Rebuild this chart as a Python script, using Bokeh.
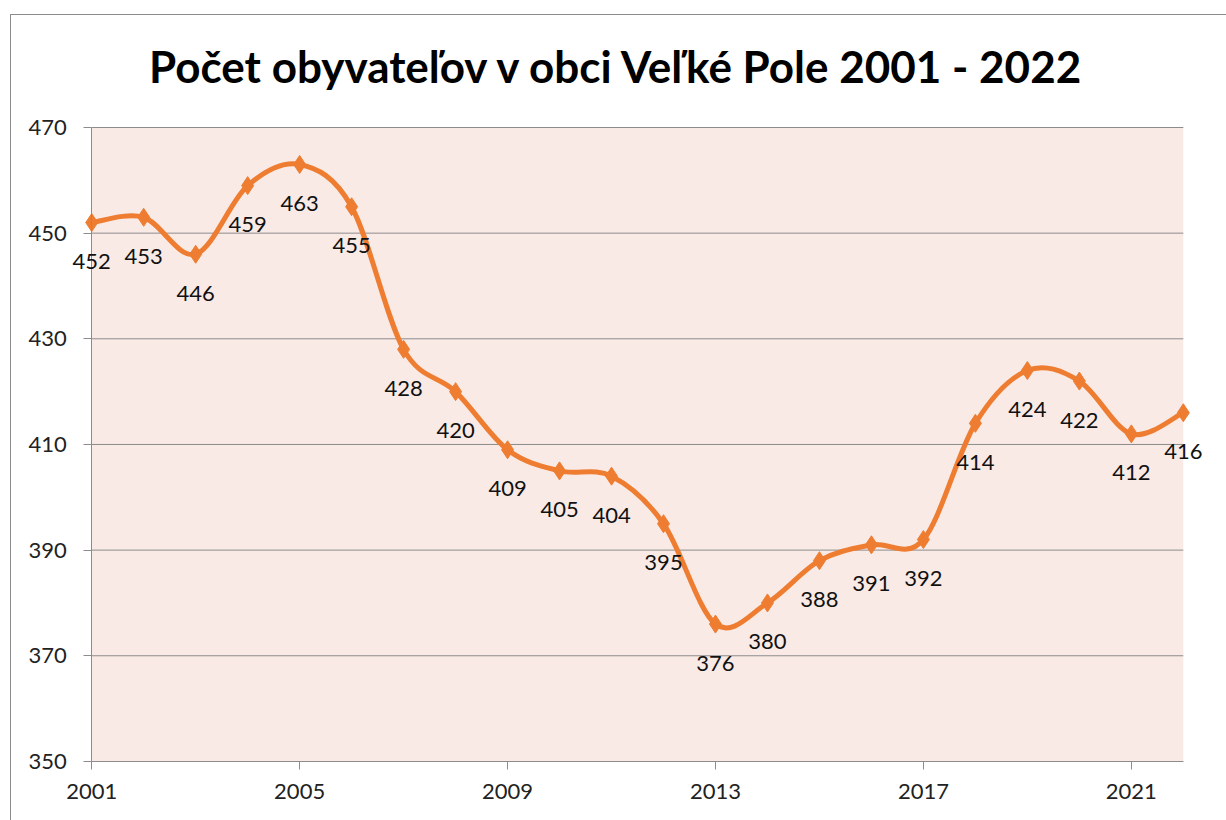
from bokeh.plotting import figure
from bokeh.models import ColumnDataSource, FixedTicker, LabelSet, Range1d
from bokeh.core.properties import value
from bokeh.embed import file_html
from bokeh.resources import INLINE

years = [2001, 2002, 2003, 2004, 2005, 2006, 2007, 2008, 2009, 2010, 2011,
         2012, 2013, 2014, 2015, 2016, 2017, 2018, 2019, 2020, 2021, 2022]
population = [452, 453, 446, 459, 463, 455, 428, 420, 409, 405, 404,
              395, 376, 380, 388, 391, 392, 414, 424, 422, 412, 416]
x_ticks = [2001, 2005, 2009, 2013, 2017, 2021]
y_ticks = [350, 370, 390, 410, 430, 450, 470]
title_text = "Počet obyvateľov v obci Veľké Pole 2001 - 2022"

ORANGE = "#EE7D31"
GRID = "#8C8C8C"
FONT = "Lato"

p = figure(width=1216, height=806, output_backend="svg", toolbar_location=None,
           x_range=Range1d(1999.63, 2022.6), y_range=Range1d(340.14, 472.84),
           min_border_left=9, min_border_right=13, min_border_top=97,
           min_border_bottom=8)
p.margin = (14, 0, 0, 10)
p.styles = {"border-left": "1px solid #8C8C8C", "border-top": "1px solid #8C8C8C"}

p.title.text = title_text
p.title.align = "center"
p.title.standoff = 42
p.title.text_font = FONT
p.title.text_font_style = "bold"
p.title.text_font_size = "44px"
p.title.text_color = "#000000"

p.background_fill_color = "white"
p.border_fill_color = "white"
p.outline_line_color = None
p.xgrid.grid_line_color = None
p.ygrid.grid_line_color = None

# plot area (pink) spanning the data domain
p.quad(left=years[0], right=years[-1], bottom=y_ticks[0], top=y_ticks[-1],
       fill_color="#FAEAE6", line_color=None)
# horizontal gridlines
p.segment(x0=[years[0]] * (len(y_ticks) - 1), x1=[years[-1]] * (len(y_ticks) - 1),
          y0=y_ticks[1:], y1=y_ticks[1:], line_color=GRID, line_width=1)

p.xaxis.ticker = FixedTicker(ticks=x_ticks)
p.yaxis.ticker = FixedTicker(ticks=y_ticks)
p.xaxis.bounds = (years[0], years[-1])
p.xaxis.fixed_location = y_ticks[0]
p.yaxis.bounds = (y_ticks[0], y_ticks[-1])
p.yaxis.fixed_location = years[0]
for ax in (p.xaxis[0], p.yaxis[0]):
    ax.axis_line_color = GRID
    ax.major_tick_line_color = GRID
    ax.major_tick_out = 8
    ax.major_tick_in = 0
    ax.minor_tick_line_color = None
    ax.major_label_text_font = FONT
    ax.major_label_text_font_size = "22px"
    ax.major_label_text_color = "#222222"
p.xaxis.major_label_standoff = 15
p.yaxis.major_label_standoff = 17

# Excel-like smoothed line through the data points (cubic Bezier segments)
n = len(years)
x0, y0, x1, y1, cx0, cy0, cx1, cy1 = ([] for _ in range(8))
for i in range(n - 1):
    ip = max(i - 1, 0)
    inn = min(i + 2, n - 1)
    x0.append(years[i]); y0.append(population[i])
    x1.append(years[i + 1]); y1.append(population[i + 1])
    cx0.append(years[i] + (years[i + 1] - years[ip]) / 6)
    cy0.append(population[i] + (population[i + 1] - population[ip]) / 6)
    cx1.append(years[i + 1] - (years[inn] - years[i]) / 6)
    cy1.append(population[i + 1] - (population[inn] - population[i]) / 6)
p.bezier(x0=x0, y0=y0, x1=x1, y1=y1, cx0=cx0, cy0=cy0, cx1=cx1, cy1=cy1,
         line_color=ORANGE, line_width=5)

src = ColumnDataSource(dict(x=years, y=population, t=[str(v) for v in population]))
p.scatter("x", "y", source=src, marker="diamond", size=18,
          fill_color=ORANGE, line_color=ORANGE)

labels = LabelSet(x="x", y="y", text="t", source=src, text_align="center",
                  text_baseline="middle", y_offset=-39, text_font=value(FONT),
                  text_font_size=value("22px"), text_color=value("#111111"))
p.add_layout(labels)

open("out.html", "w").write(file_html(p, INLINE))
